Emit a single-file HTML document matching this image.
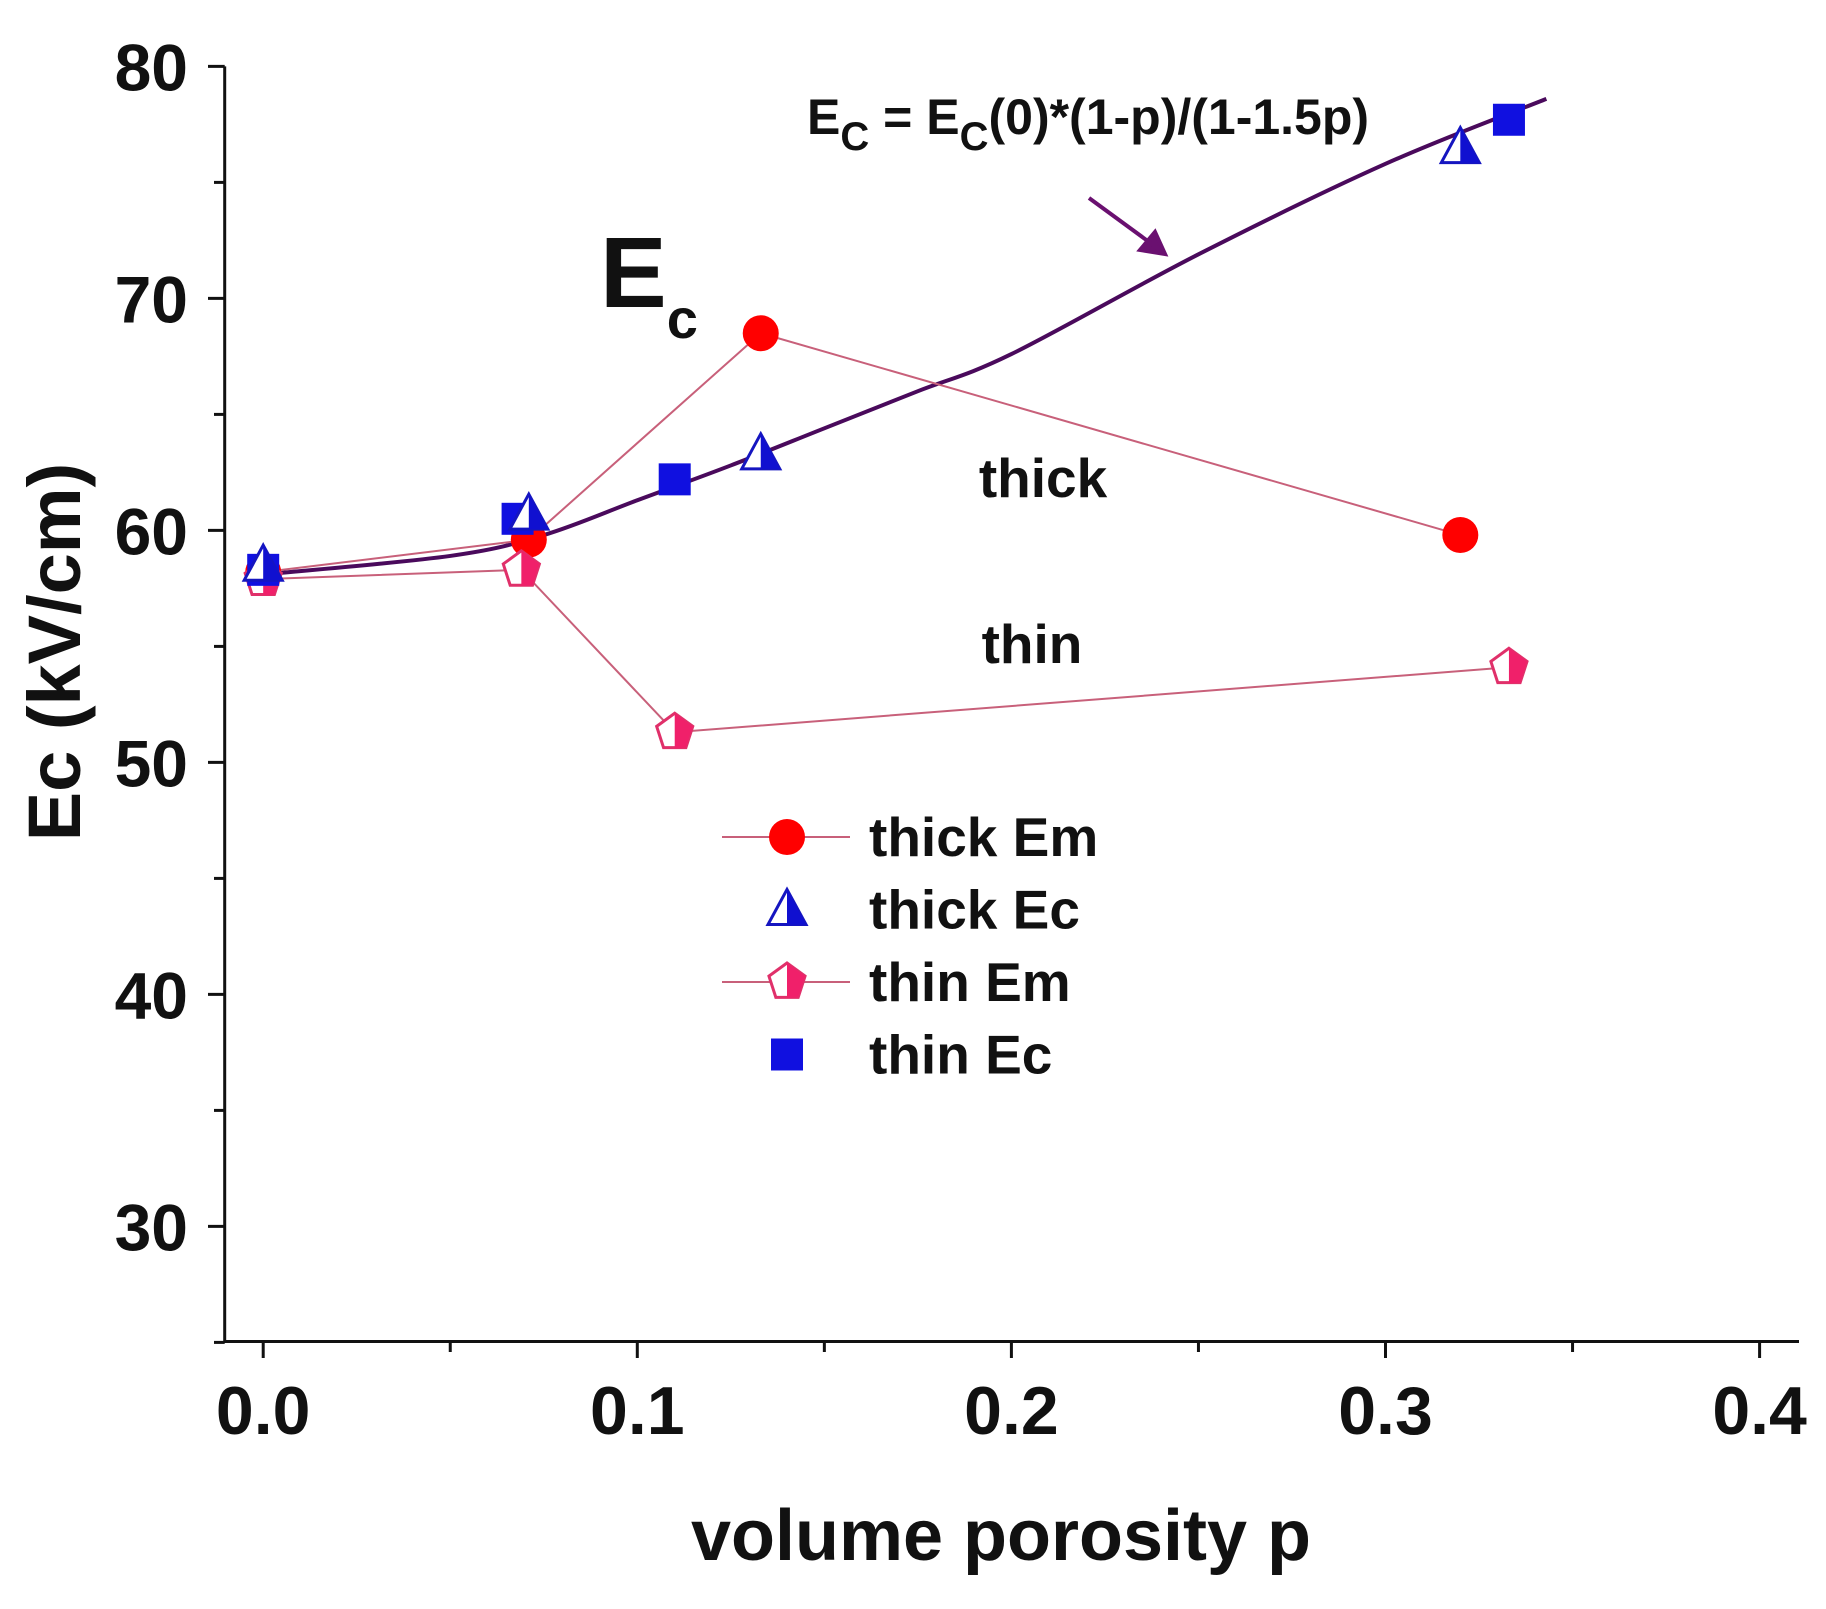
<!DOCTYPE html>
<html><head><meta charset="utf-8"><style>
body{margin:0;background:#fff}
svg text{font-family:"Liberation Sans",Arial,sans-serif;font-weight:bold;fill:#111}
</style></head><body>
<svg id="c" width="1826" height="1604" viewBox="0 0 1826 1604" xmlns="http://www.w3.org/2000/svg">
<g id="g"></g>
</svg>
<script>
const xTicks=[0.0,0.1,0.2,0.3,0.4];
const xTickLabels=["0.0","0.1","0.2","0.3","0.4"];
const yTicks=[30,40,50,60,70,80];
const thickEmX=[0,0.071,0.133,0.320];
const thickEmY=[58.2,59.6,68.5,59.8];
const thickEcX=[0,0.071,0.133,0.320];
const thickEcY=[58.5,60.7,63.3,76.5];
const thinEmX=[0,0.069,0.110,0.333];
const thinEmY=[57.9,58.3,51.3,54.1];
const thinEcX=[0,0.068,0.110,0.333];
const thinEcY=[58.3,60.5,62.2,77.7];
const fitX=[0,0.05,0.075,0.1,0.125,0.15,0.175,0.2,0.25,0.3,0.343];
const fitY=[58.1,58.9,59.8,61.3,62.8,64.4,66.0,67.6,71.9,75.8,78.6];

const NS="http://www.w3.org/2000/svg";
const g=document.getElementById('g');
const X=v=>263.2+v*3741;
const Y=v=>66.4+(80-v)*23.2;
function el(t,a,p){const e=document.createElementNS(NS,t);for(const k in a)e.setAttribute(k,a[k]);(p||g).appendChild(e);return e;}
let ax=el('path',{d:`M224.7,66.4 V1341.5 H1799`,fill:'none',stroke:'#111','stroke-width':3});


for(let v=25;v<=80;v+=5){const t=el('line',{x1:224.7,x2:v%10==0?208:214,y1:Y(v),y2:Y(v),stroke:'#111','stroke-width':3});

}
yTicks.forEach(v=>{const t=el('text',{x:188,y:Y(v)+24,'text-anchor':'end','font-size':66});t.textContent=v;

});
for(let i=0;i<=8;i++){const v=i*0.05;const t=el('line',{x1:X(v),x2:X(v),y1:1341.5,y2:i%2==0?1358:1352,stroke:'#111','stroke-width':3});

}
xTicks.forEach((v,i)=>{const t=el('text',{x:X(v),y:1434,'text-anchor':'middle','font-size':68});t.textContent=xTickLabels[i];

});
let xt=el('text',{x:1001,y:1560,'text-anchor':'middle','font-size':72});xt.textContent='volume porosity p';


let yt=el('text',{x:0,y:0,'text-anchor':'middle','font-size':74,transform:'translate(80,652) rotate(-90)'});yt.textContent='Ec (kV/cm)';


// smooth curve (Catmull-Rom) through fit points
const P=fitX.map((x,i)=>[X(x),Y(fitY[i])]);
let d=`M${P[0][0]},${P[0][1]}`;
for(let i=0;i<P.length-1;i++){const p0=P[i-1]||P[i],p1=P[i],p2=P[i+1],p3=P[i+2]||P[i+1];
d+=` C${p1[0]+(p2[0]-p0[0])/6},${p1[1]+(p2[1]-p0[1])/6} ${p2[0]-(p3[0]-p1[0])/6},${p2[1]-(p3[1]-p1[1])/6} ${p2[0]},${p2[1]}`;}
let fc=el('path',{d,fill:'none',stroke:'#4a0a5c','stroke-width':4});


function line(xs,ys,name){const l=el('polyline',{points:xs.map((x,i)=>X(x)+','+Y(ys[i])).join(' '),fill:'none',stroke:'#c8607a','stroke-width':2});

}
line(thickEmX,thickEmY,'thick-em-line');
line(thinEmX,thinEmY,'thin-em-line');
function circle(cx,cy){return el('circle',{cx,cy,r:18,fill:'#f00'});}
function tri(cx,cy){const gg=el('g',{});el('path',{d:`M${cx},${cy-20} L${cx+19},${cy+15} L${cx-19},${cy+15}Z`,fill:'#fff',stroke:'#1515c0','stroke-width':3},gg);el('path',{d:`M${cx},${cy-20} L${cx+19},${cy+15} L${cx},${cy+15}Z`,fill:'#1010d0'},gg);return gg;}
function pent(cx,cy){const gg=el('g',{});const pts=[];for(let k=0;k<5;k++){const a=-Math.PI/2+k*2*Math.PI/5;pts.push([cx+19*Math.cos(a),cy+19*Math.sin(a)]);}
el('polygon',{points:pts.map(p=>p.join(',')).join(' '),fill:'#fff',stroke:'#e0306a','stroke-width':3},gg);
el('polygon',{points:[[cx,cy-19],pts[1],pts[2],[cx,cy+16]].map(p=>p.join(',')).join(' '),fill:'#f0206a'},gg);return gg;}
function sq(cx,cy){return el('rect',{x:cx-16,y:cy-16,width:32,height:32,fill:'#1010e0'});}
function pts(xs,ys,f,name){xs.forEach((x,i)=>{const m=f(X(x),Y(ys[i]));

});}
pts(thickEmX,thickEmY,circle,'thick-em-point');
pts(thinEmX,thinEmY,pent,'thin-em-point');
pts(thinEcX,thinEcY,sq,'thin-ec-point');
pts(thickEcX,thickEcY,tri,'thick-ec-point');
const leg=[['thick Em',circle,true],['thick Ec',tri,false],['thin Em',pent,true],['thin Ec',sq,false]];
leg.forEach((l,i)=>{const y=837+i*72.5;if(l[2]){const ln=el('line',{x1:722,x2:850,y1:y,y2:y,stroke:'#c8607a','stroke-width':2});

}
const m=l[1](787,y);

const t=el('text',{x:869,y:y+19,'font-size':55});t.textContent=l[0];

});
let a1=el('text',{x:1043,y:497,'text-anchor':'middle','font-size':55});a1.textContent='thick';


let a2=el('text',{x:1032,y:663,'text-anchor':'middle','font-size':55});a2.textContent='thin';


let ec=el('text',{x:600,y:307,'font-size':100});ec.innerHTML='E<tspan font-size="56" dy="31">c</tspan>';


let fm=el('text',{x:807,y:134,'font-size':50});fm.innerHTML='E<tspan font-size="40" dy="16">C</tspan><tspan dy="-16"> = E</tspan><tspan font-size="40" dy="16">C</tspan><tspan dy="-16">(0)*(1-p)/(1-1.5p)</tspan>';


let ar=el('path',{d:'M1089,198 L1160,250 M1165,254 L1140,250 L1155,232 Z',fill:'#6a1070',stroke:'#6a1070','stroke-width':4});


</script>
</body></html>
